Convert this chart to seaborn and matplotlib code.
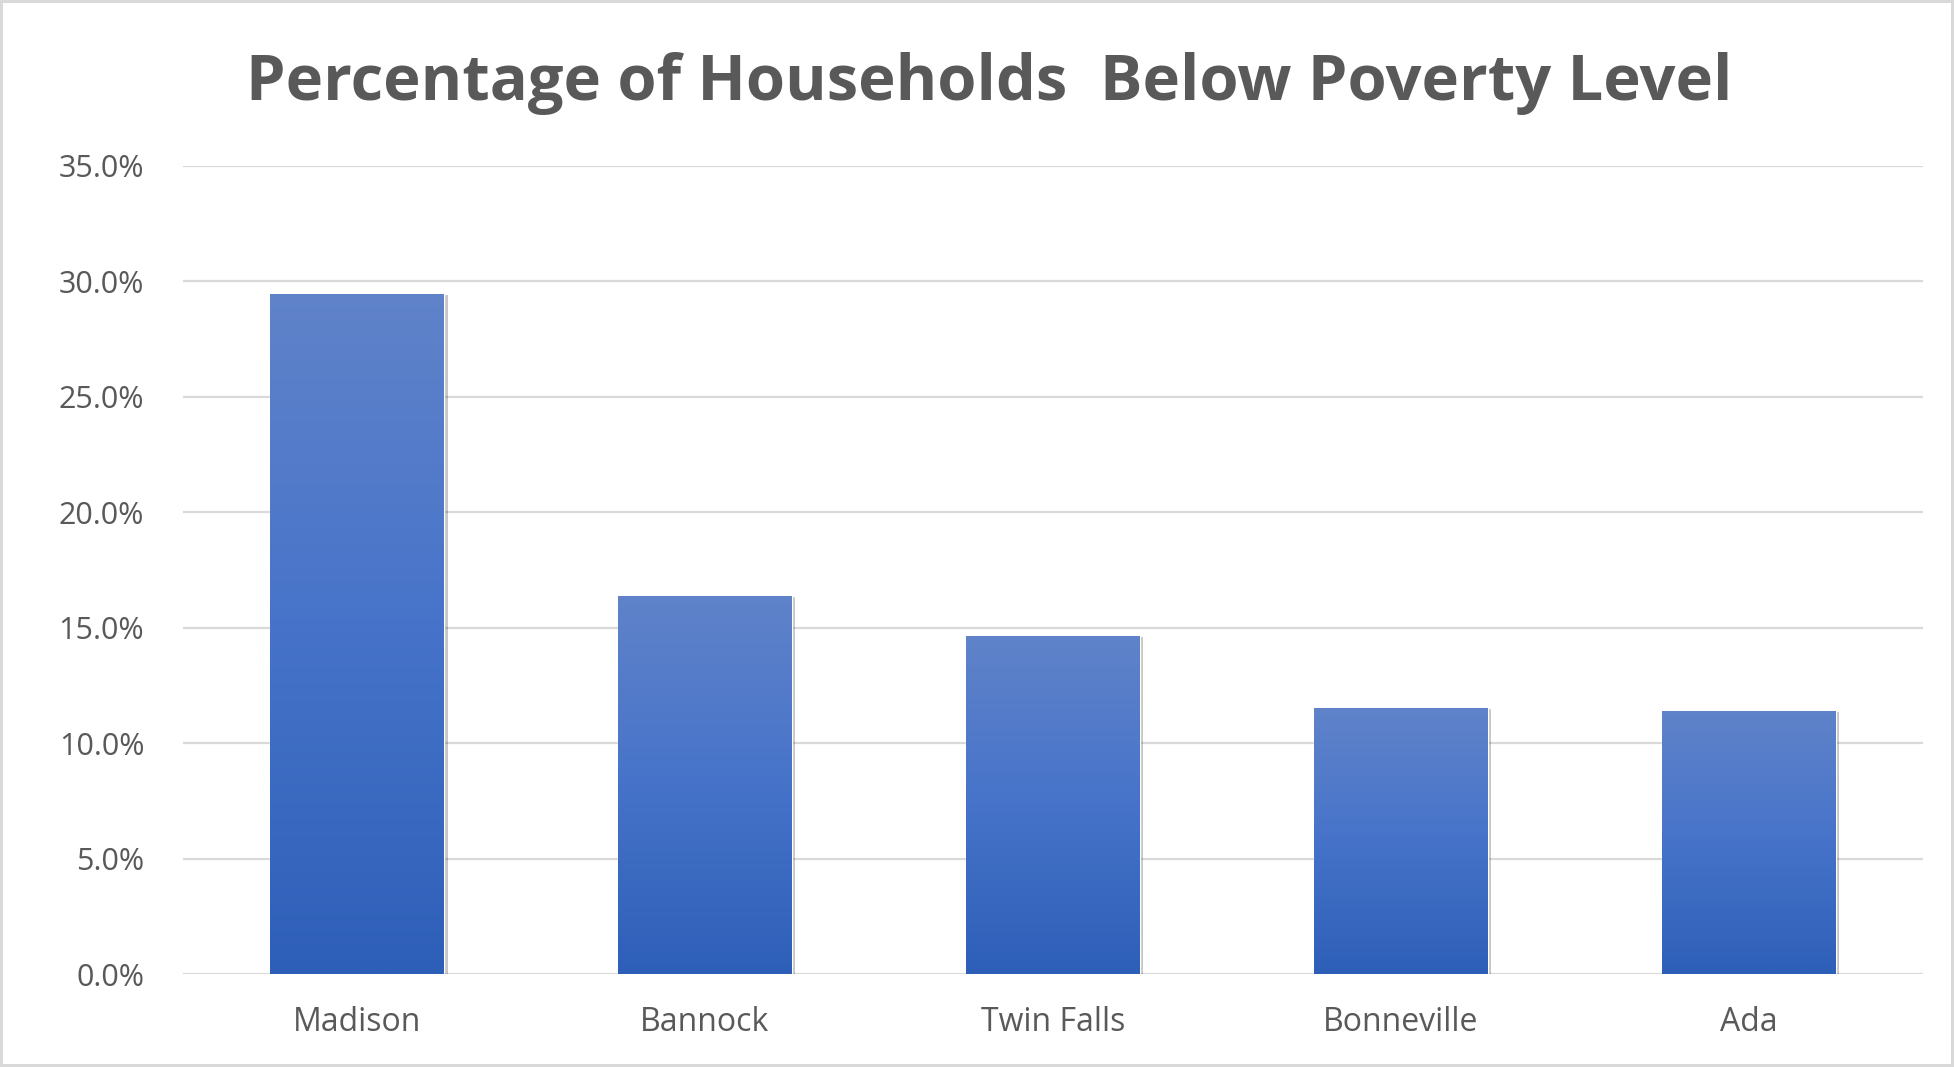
import numpy as np
import pandas as pd
import seaborn as sns
from matplotlib import pyplot as plt
from matplotlib.ticker import PercentFormatter
from matplotlib.colors import LinearSegmentedColormap
import matplotlib.patheffects as pe

counties = ["Madison", "Bannock", "Twin Falls", "Bonneville", "Ada"]
poverty_pct = [0.2945, 0.1638, 0.1465, 0.1153, 0.1140]
y_ticks = [0.0, 0.05, 0.10, 0.15, 0.20, 0.25, 0.30, 0.35]

df = pd.DataFrame({"county": counties, "pct": poverty_pct})

sns.set_style("white")
plt.rcParams["font.family"] = ["Open Sans", "DejaVu Sans"]

fig = plt.figure(figsize=(19.54, 10.67), dpi=100)
fig.patch.set_edgecolor("#d9d9d9")
fig.patch.set_linewidth(3)
ax = fig.add_axes([0.0937, 0.0867, 0.8903, 0.758])

sns.barplot(data=df, x="county", y="pct", color="#4472c4", width=0.5,
            saturation=1, ax=ax, zorder=3)

# vertical gradient fill like the original, clipped to each bar
grad = LinearSegmentedColormap.from_list("g", ["#2e5fb8", "#4673c9", "#6083ca"])
for bar in ax.patches:
    x0, y0 = bar.get_x(), bar.get_y()
    w, h = bar.get_width(), bar.get_height()
    bar.set_path_effects([pe.SimplePatchShadow(offset=(2.5, -0.5), shadow_rgbFace="#000000", alpha=0.22),
                          pe.Normal()])
    img = ax.imshow(np.linspace(0, 1, 256).reshape(-1, 1), cmap=grad, aspect="auto",
                    extent=[x0, x0 + w, y0, y0 + h], origin="lower", zorder=4)
    img.set_clip_path(bar)

ax.set_xlim(-0.5, len(counties) - 0.5)
ax.set_ylim(0, 0.35)
ax.set_yticks(y_ticks)
ax.yaxis.set_major_formatter(PercentFormatter(1.0, decimals=1))
ax.grid(axis="y", color="#d9d9d9", linewidth=1.6, zorder=0)
ax.set_axisbelow(True)
sns.despine(ax=ax, left=True, right=True, top=True, bottom=True)
ax.axhline(0, color="#d9d9d9", linewidth=2.2, zorder=2)

ax.tick_params(axis="y", length=0, pad=28, labelsize=22, labelcolor="#595959")
ax.tick_params(axis="x", length=0, pad=23, labelsize=23, labelcolor="#595959")
ax.set_xlabel("")
ax.set_ylabel("")

fig.text(0.506, 0.922, "Percentage of Households  Below Poverty Level",
         ha="center", va="center", fontsize=45.5, fontweight="bold", color="#595959")

fig.savefig("out.png", dpi=100)
